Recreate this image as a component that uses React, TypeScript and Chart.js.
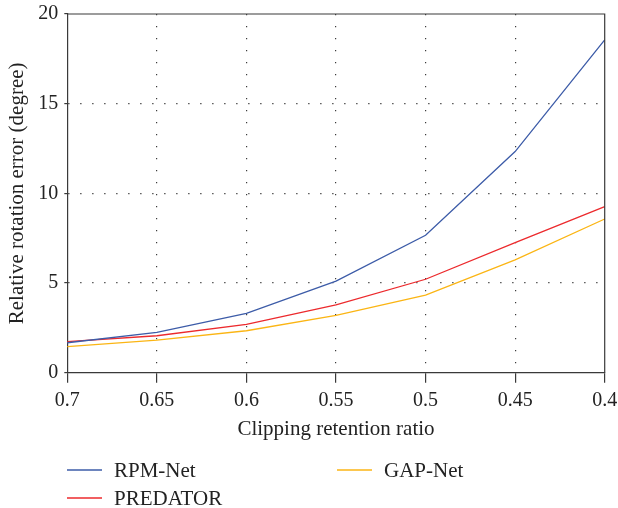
import { useEffect, useRef } from 'react';
import { Chart, registerables } from 'chart.js';

Chart.register(...registerables);

const categories = ['0.7', '0.65', '0.6', '0.55', '0.5', '0.45', '0.4'];
const rpmNet = [1.67, 2.25, 3.31, 5.11, 7.66, 12.33, 18.56];
const predator = [1.73, 2.06, 2.7, 3.78, 5.21, 7.25, 9.26];
const gapNet = [1.45, 1.82, 2.34, 3.2, 4.32, 6.29, 8.57];
const seriesLabels = ['RPM-Net', 'PREDATOR', 'GAP-Net'];
const seriesColors = ['#3d5ca8', '#ec2a2d', '#fbb514'];
const xTitle = 'Clipping retention ratio';
const yTitle = 'Relative rotation error (degree)';

const FONT = "'Liberation Serif', 'Times New Roman', serif";
const AXIS = '#3a3a3a';
const TEXT = '#222222';
const GRID = '#3c3c3c';

const framePlugin = {
  id: 'frame',
  afterDraw(chart: any) {
    const { ctx, chartArea } = chart;
    ctx.save();
    ctx.strokeStyle = AXIS;
    ctx.lineWidth = 1.2;
    ctx.beginPath();
    ctx.moveTo(chartArea.left, chartArea.top);
    ctx.lineTo(chartArea.right, chartArea.top);
    ctx.lineTo(chartArea.right, chartArea.bottom);
    ctx.stroke();
    ctx.restore();
  },
};

const legendPlugin = {
  id: 'gridLegend',
  afterDraw(chart: any) {
    const { ctx } = chart;
    const slots = [
      { x: 67, y: 470 },
      { x: 67, y: 498 },
      { x: 337, y: 470 },
    ];
    ctx.save();
    chart.data.datasets.forEach((ds: any, i: number) => {
      const s = slots[i];
      ctx.strokeStyle = ds.borderColor;
      ctx.lineWidth = 1.4;
      ctx.beginPath();
      ctx.moveTo(s.x, s.y);
      ctx.lineTo(s.x + 35, s.y);
      ctx.stroke();
      ctx.fillStyle = TEXT;
      ctx.font = `21px ${FONT}`;
      ctx.textBaseline = 'middle';
      ctx.textAlign = 'left';
      ctx.fillText(ds.label, s.x + 47, s.y + 1);
    });
    ctx.restore();
  },
};

export default function App() {
  const ref = useRef<HTMLCanvasElement | null>(null);

  useEffect(() => {
    document.body.style.margin = '0';
    const canvas = ref.current;
    if (!canvas) return;
    const seriesData = [rpmNet, predator, gapNet];
    const chart = new Chart(canvas, {
      type: 'line',
      data: {
        labels: categories,
        datasets: seriesLabels.map((label, i) => ({
          label,
          data: seriesData[i],
          borderColor: seriesColors[i],
          backgroundColor: seriesColors[i],
          borderWidth: 1.3,
          pointRadius: 0,
          tension: 0,
          fill: false,
        })),
      },
      options: {
        animation: false,
        responsive: false,
        maintainAspectRatio: false,
        layout: { padding: { top: 14, right: 13.3, bottom: 63, left: 0 } },
        plugins: {
          legend: { display: false },
          tooltip: { enabled: false },
        },
        scales: {
          x: {
            type: 'category',
            offset: false,
            afterFit: (scale: any) => {
              scale.height = 72.3;
              scale.paddingLeft = 0;
              scale.paddingRight = 0;
            },
            border: { display: true, color: AXIS, width: 1.2, dash: [1.3, 10.7] },
            grid: {
              color: (c: any) =>
                c.index === 0 || c.index === categories.length - 1 ? 'rgba(0,0,0,0)' : GRID,
              lineWidth: 1.2,
              tickLength: 10,
              tickColor: AXIS,
              tickWidth: 1.2,
              tickBorderDash: [],
              drawTicks: true,
            },
            ticks: {
              color: TEXT,
              font: { family: FONT, size: 20 },
              padding: 6,
              maxRotation: 0,
              autoSkip: false,
            },
            title: {
              display: true,
              text: xTitle,
              color: TEXT,
              font: { family: FONT, size: 21 },
              padding: { top: 0, bottom: 3 },
            },
          },
          y: {
            min: 0,
            max: 20,
            afterFit: (scale: any) => {
              scale.width = 67.3;
              scale.paddingTop = 0;
              scale.paddingBottom = 0;
            },
            border: { display: true, color: AXIS, width: 1.2, dash: [1.3, 10.7] },
            grid: {
              color: (c: any) =>
                c.tick && (c.tick.value === 0 || c.tick.value === 20) ? 'rgba(0,0,0,0)' : GRID,
              lineWidth: 1.2,
              tickLength: 3,
              tickColor: AXIS,
              tickWidth: 1.2,
              tickBorderDash: [],
            },
            ticks: {
              stepSize: 5,
              color: TEXT,
              font: { family: FONT, size: 20 },
              padding: 6,
            },
            title: {
              display: true,
              text: yTitle,
              color: TEXT,
              font: { family: FONT, size: 21 },
              padding: { top: 5, bottom: 0 },
            },
          },
        },
      },
      plugins: [framePlugin, legendPlugin],
    });
    return () => chart.destroy();
  }, []);

  return (
    <div style={{ width: 618, height: 508 }}>
      <canvas ref={ref} width={618} height={508} style={{ display: 'block', width: 618, height: 508 }} />
    </div>
  );
}
